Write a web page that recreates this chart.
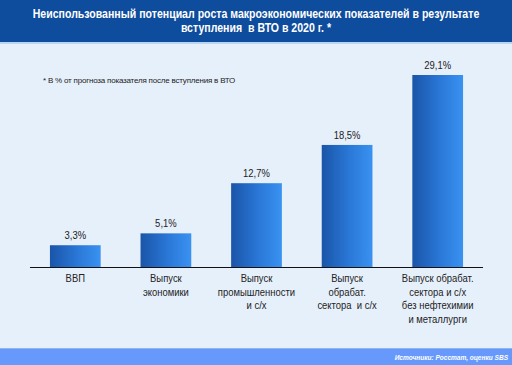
<!DOCTYPE html>
<html>
<head>
<meta charset="utf-8">
<script src="https://cdn.jsdelivr.net/npm/d3@7"></script>
<style>
    body { margin: 0; background: #e6f0fb; }
    svg { display: block; }
</style>
</head>
<body>
<div id="chart"></div>
<script>
// chart data
var categories = [
    ["ВВП"],
    ["Выпуск", "экономики"],
    ["Выпуск", "промышленности", "и с/х"],
    ["Выпуск", "обрабат.", "сектора  и с/х"],
    ["Выпуск обрабат.", "сектора и с/х", "без нефтехимии", "и металлурги"]
];
var values = [3.3, 5.1, 12.7, 18.5, 29.1];
var valueLabels = ["3,3%", "5,1%", "12,7%", "18,5%", "29,1%"];
var titleLines = [
    "Неиспользованный потенциал роста макроэкономических показателей в результате",
    "вступления  в ВТО в 2020 г. *"
];
var noteText = "* В % от прогноза показателя после вступления в ВТО";
var sourceText = "Источники: Росстат, оценки SBS";

var width = 512,
    height = 365,
    baseY = 267,
    narrow = 0.86; // horizontal squeeze to mimic a narrow font
var font = "'Liberation Sans Narrow', 'Arial Narrow', 'Liberation Sans', Arial, sans-serif";

var svg = d3
    .select("#chart")
    .append("svg")
    .attr("width", width)
    .attr("height", height)
    .style("font-family", font);

// gradient for bars
var defs = svg.append("defs");
var grad = defs
    .append("linearGradient")
    .attr("id", "barGrad")
    .attr("x1", "0%")
    .attr("x2", "100%")
    .attr("y1", "0%")
    .attr("y2", "0%");
grad.append("stop").attr("offset", "0%").attr("stop-color", "#1a55a8");
grad.append("stop").attr("offset", "55%").attr("stop-color", "#2a78d8");
grad.append("stop").attr("offset", "100%").attr("stop-color", "#3a92f0");

// background
svg.append("rect")
    .attr("width", width)
    .attr("height", height)
    .attr("fill", "#e6f0fb");

// header band
svg.append("rect")
    .attr("width", width)
    .attr("height", 42)
    .attr("fill", "#0e4c9d");
svg.append("rect")
    .attr("y", 42)
    .attr("width", width)
    .attr("height", 2)
    .attr("fill", "#b9d6f3");

svg.selectAll(".title")
    .data(titleLines)
    .enter()
    .append("text")
    .attr("class", "title")
    .attr("transform", function (d, i) {
        return "translate(" + width / 2 + "," + (18 + i * 14) + ") scale(0.88,1)";
    })
    .attr("text-anchor", "middle")
    .attr("fill", "#ffffff")
    .style("font-size", "12px")
    .style("font-weight", "bold")
    .style("white-space", "pre")
    .text(function (d) {
        return d;
    });

// note
svg.append("text")
    .attr("x", 43)
    .attr("y", 83)
    .attr("fill", "#222")
    .style("font-size", "8px")
    .style("font-family", "'Liberation Sans', Arial, sans-serif")
    .style("letter-spacing", "-0.2px")
    .text(noteText);

// scales
var x = d3
    .scaleBand()
    .domain(d3.range(values.length))
    .range([30, 483])
    .paddingInner(0.44)
    .paddingOuter(0.22);

var y = d3
    .scaleLinear()
    .domain([0, 29.1])
    .range([baseY, 75]);

// bars
svg.selectAll(".bar")
    .data(values)
    .enter()
    .append("rect")
    .attr("class", "bar")
    .attr("x", function (d, i) {
        return x(i);
    })
    .attr("y", function (d) {
        return y(d);
    })
    .attr("width", x.bandwidth())
    .attr("height", function (d) {
        return baseY - y(d);
    })
    .attr("fill", "url(#barGrad)");

// axis line
svg.append("line")
    .attr("x1", 30)
    .attr("x2", 483)
    .attr("y1", baseY + 0.5)
    .attr("y2", baseY + 0.5)
    .attr("stroke", "#111")
    .attr("stroke-width", 1);

// value labels
svg.selectAll(".val")
    .data(values)
    .enter()
    .append("text")
    .attr("class", "val")
    .attr("transform", function (d, i) {
        return "translate(" + (x(i) + x.bandwidth() / 2) + "," + (y(d) - 6) + ") scale(" + narrow + ",1)";
    })
    .attr("text-anchor", "middle")
    .attr("fill", "#222")
    .style("font-size", "11px")
    .text(function (d, i) {
        return valueLabels[i];
    });

// category labels
var cat = svg.selectAll(".cat")
    .data(categories)
    .enter()
    .append("text")
    .attr("class", "cat")
    .attr("transform", function (d, i) {
        return "translate(" + (x(i) + x.bandwidth() / 2) + ",282) scale(" + narrow + ",1)";
    })
    .attr("text-anchor", "middle")
    .attr("fill", "#222")
    .style("font-size", "11px");

cat.selectAll("tspan")
    .data(function (d) {
        return d;
    })
    .enter()
    .append("tspan")
    .attr("x", 0)
    .attr("y", function (d, j) {
        return j * 13.7;
    })
    .style("white-space", "pre")
    .text(function (d) {
        return d;
    });

// footer band
svg.append("rect")
    .attr("y", 348)
    .attr("width", width)
    .attr("height", 2)
    .attr("fill", "#8fb3f0");
svg.append("rect")
    .attr("y", 349)
    .attr("width", width)
    .attr("height", 16)
    .attr("fill", "#6699fb");
svg.append("text")
    .attr("transform", "translate(508,360) scale(0.82,1)")
    .attr("text-anchor", "end")
    .attr("fill", "#ffffff")
    .style("font-size", "8px")
    .style("font-style", "italic")
    .style("font-weight", "bold")
    .text(sourceText);
</script>
</body>
</html>
